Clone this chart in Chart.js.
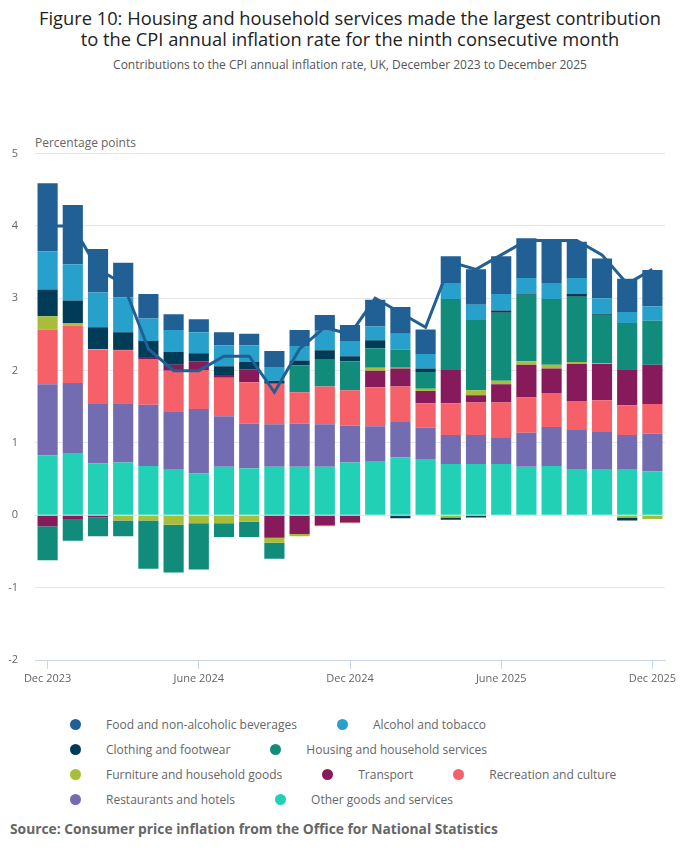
<!DOCTYPE html>
<html>
<head>
<meta charset="utf-8">
<script src="https://cdn.jsdelivr.net/npm/chart.js@4.4.1/dist/chart.umd.min.js"></script>
<style>
  body { margin: 0; width: 700px; height: 857px; background: #fff; position: relative; overflow: hidden;
         font-family: 'Open Sans', sans-serif; }
  #title { position: absolute; top: 7px; left: 0; width: 700px; text-align: center; font-size: 18.3px; line-height: 21px; color: #222; }
  #subtitle { position: absolute; top: 57px; left: 0; width: 700px; text-align: center; font-size: 12px; line-height: 16px; color: #555; }
  #yname { position: absolute; top: 135px; left: 35px; font-size: 12px; line-height: 16px; color: #666; }
  #wrap { position: absolute; top: 130px; left: 0; width: 700px; height: 560px; }
  #legend { position: absolute; top: 712px; left: 70px; }
  .row { display: flex; align-items: center; height: 25px; }
  .item { display: flex; align-items: center; margin-right: 40px; font-size: 12px; color: #666; }
  .dot { width: 11px; height: 11px; border-radius: 50%; margin-right: 25px; }
  #source { position: absolute; top: 819px; left: 10px; font-size: 13.8px; line-height: 20px; font-weight: bold; color: #666; }
</style>
</head>
<body>
<div id="title">Figure 10: Housing and household services made the largest contribution<br>to the CPI annual inflation rate for the ninth consecutive month</div>
<div id="subtitle">Contributions to the CPI annual inflation rate, UK, December 2023 to December 2025</div>
<div id="yname">Percentage points</div>
<div id="wrap"><canvas id="chart"></canvas></div>
<div id="legend"></div>
<div id="source">Source: Consumer price inflation from the Office for National Statistics</div>
<script>
// months shown on the x axis
var months = ['Dec 2023', 'Jan 2024', 'Feb 2024', 'Mar 2024', 'Apr 2024', 'May 2024', 'June 2024',
  'July 2024', 'Aug 2024', 'Sept 2024', 'Oct 2024', 'Nov 2024', 'Dec 2024', 'Jan 2025', 'Feb 2025',
  'Mar 2025', 'Apr 2025', 'May 2025', 'June 2025', 'July 2025', 'Aug 2025', 'Sept 2025', 'Oct 2025',
  'Nov 2025', 'Dec 2025'];

// contributions, percentage points
var food = [0.94, 0.82, 0.60, 0.48, 0.34, 0.22, 0.18, 0.18, 0.16, 0.22, 0.22, 0.22, 0.22, 0.37, 0.37, 0.34, 0.37, 0.49, 0.52, 0.55, 0.57, 0.50, 0.55, 0.46, 0.50];
var alcohol = [0.53, 0.50, 0.48, 0.48, 0.31, 0.30, 0.29, 0.29, 0.23, 0.19, 0.20, 0.27, 0.21, 0.19, 0.22, 0.20, 0.22, 0.21, 0.23, 0.22, 0.22, 0.22, 0.22, 0.15, 0.20];
var clothing = [0.37, 0.31, 0.30, 0.23, 0.22, 0.18, 0.11, 0.12, 0.10, 0.04, 0.07, 0.12, 0.07, 0.11, -0.04, 0.05, -0.03, -0.03, 0.03, 0.01, 0, 0.04, 0.01, -0.04, 0];
var housing = [-0.47, -0.29, -0.26, -0.22, -0.67, -0.66, -0.64, -0.19, -0.21, -0.22, 0.37, 0.38, 0.40, 0.27, 0.25, 0.23, 0.98, 0.97, 0.94, 0.92, 0.91, 0.90, 0.67, 0.64, 0.61];
var furniture = [0.18, 0.04, 0.01, -0.07, -0.07, -0.13, -0.11, -0.11, -0.09, -0.07, -0.03, -0.01, -0.01, 0.04, 0.01, 0.03, -0.03, 0.07, 0.05, 0.05, 0.05, 0.03, 0.01, -0.03, -0.05];
var transport = [-0.15, -0.06, -0.03, 0.02, 0.03, 0.08, 0.12, 0.04, 0.18, -0.31, -0.26, -0.14, -0.10, 0.23, 0.25, 0.17, 0.46, 0.10, 0.25, 0.45, 0.34, 0.51, 0.50, 0.50, 0.54];
var recreation = [0.76, 0.79, 0.75, 0.73, 0.63, 0.56, 0.54, 0.53, 0.57, 0.56, 0.43, 0.52, 0.49, 0.54, 0.49, 0.34, 0.44, 0.45, 0.49, 0.49, 0.47, 0.40, 0.44, 0.41, 0.41];
var restaurants = [0.98, 0.97, 0.82, 0.82, 0.85, 0.81, 0.89, 0.70, 0.62, 0.59, 0.60, 0.59, 0.51, 0.49, 0.49, 0.43, 0.40, 0.40, 0.36, 0.47, 0.54, 0.55, 0.52, 0.48, 0.52];
var other = [0.83, 0.86, 0.72, 0.73, 0.68, 0.63, 0.58, 0.67, 0.65, 0.67, 0.67, 0.67, 0.73, 0.74, 0.80, 0.78, 0.71, 0.71, 0.71, 0.67, 0.68, 0.63, 0.63, 0.63, 0.61];

// CPI annual rate, %
var cpi = [4.0, 4.0, 3.4, 3.2, 2.3, 2.0, 2.0, 2.2, 2.2, 1.7, 2.3, 2.6, 2.5, 3.0, 2.8, 2.6, 3.5, 3.4, 3.6, 3.8, 3.8, 3.8, 3.6, 3.2, 3.4];

var yTicks = [-2, -1, 0, 1, 2, 3, 4, 5];

// legend order, top-left to bottom-right
var series = [
  { name: 'Food and non-alcoholic beverages', data: food, color: '#206095' },
  { name: 'Alcohol and tobacco', data: alcohol, color: '#27a0cc' },
  { name: 'Clothing and footwear', data: clothing, color: '#003c57' },
  { name: 'Housing and household services', data: housing, color: '#118c7b' },
  { name: 'Furniture and household goods', data: furniture, color: '#a8bd3a' },
  { name: 'Transport', data: transport, color: '#871a5b' },
  { name: 'Recreation and culture', data: recreation, color: '#f66068' },
  { name: 'Restaurants and hotels', data: restaurants, color: '#746cb1' },
  { name: 'Other goods and services', data: other, color: '#22d0b6' }
];
var legendRows = [[0, 1], [2, 3], [4, 5, 6], [7, 8]];

// bars stack bottom-up in the reverse of the legend order
var datasets = series.slice().reverse().map(s => ({
  type: 'bar',
  label: s.name,
  data: s.data,
  backgroundColor: s.color,
  borderWidth: 0,
  barPercentage: 0.8,
  categoryPercentage: 1,
  stack: 'contrib'
}));
datasets.push({
  type: 'line',
  label: 'CPI annual rate',
  data: cpi,
  borderColor: '#206095',
  borderWidth: 3,
  pointRadius: 0,
  tension: 0,
  stack: 'cpi',
  order: -1
});

var legend = document.getElementById('legend');
legendRows.forEach(r => {
  var row = document.createElement('div');
  row.className = 'row';
  r.forEach(i => {
    var it = document.createElement('div');
    it.className = 'item';
    it.innerHTML = '<span class="dot" style="background:' + series[i].color + '"></span>' + series[i].name;
    row.appendChild(it);
  });
  legend.appendChild(row);
});

Chart.defaults.font.family = "'Open Sans', sans-serif";

new Chart(document.getElementById('chart'), {
  data: { labels: months, datasets: datasets },
  options: {
    responsive: true,
    maintainAspectRatio: false,
    animation: false,
    layout: { padding: { top: 20, right: 35, left: 0, bottom: 0 } },
    plugins: { legend: { display: false }, tooltip: { enabled: false } },
    scales: {
      x: {
        stacked: true,
        offset: true,
        grid: {
          offset: false,
          drawOnChartArea: false,
          tickLength: 9,
          tickColor: c => (c.index % 6 === 0 ? '#ccd6eb' : 'rgba(0,0,0,0)')
        },
        border: { color: '#ccd6eb', width: 1 },
        ticks: {
          autoSkip: false,
          maxRotation: 0,
          padding: 3,
          color: '#666',
          font: { size: 11 },
          callback: function (v, i) { return i % 6 === 0 ? months[i] : ''; }
        },
        afterFit: s => { s.height = 30; }
      },
      y: {
        stacked: true,
        min: -2,
        max: 5,
        afterBuildTicks: s => { s.ticks = yTicks.map(v => ({ value: v })); },
        grid: { color: '#e6e6e6', drawTicks: false },
        border: { display: false },
        ticks: { padding: 17, color: '#666', font: { size: 11 } },
        afterFit: s => { s.width = 35; }
      }
    }
  }
});
</script>
</body>
</html>
